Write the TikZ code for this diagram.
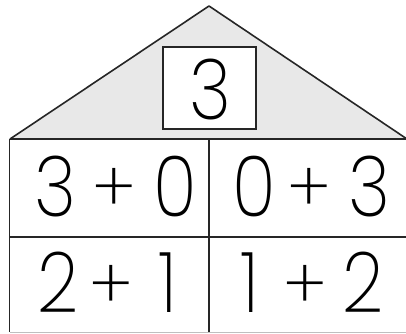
\documentclass[tikz,border=0pt]{standalone}
\usepackage{fontspec}
\setmainfont{Poppins ExtraLight}
\newcommand{\glyphtxt}[1]{\scalebox{0.86}[1]{#1}}
\begin{document}
\begin{tikzpicture}[x=1pt,y=-1pt,
  edge/.style={line width=1.6pt,draw=black!85},
  num/.style={font=\fontsize{84}{84}\selectfont,inner sep=0pt,anchor=center},
  op/.style={font=\fontsize{70}{70}\selectfont,inner sep=0pt,anchor=center}]
\useasboundingbox (0,0) rectangle (406,333);
\coordinate (apex) at (209,6);
\coordinate (rl) at (10,139);
\coordinate (rr) at (407,139);
\fill[black!9] (rl) -- (apex) -- (rr) -- cycle;
\draw[edge,line join=round] (rl) -- (apex) -- (rr);
\node[draw=black!85,line width=1.6pt,fill=white,minimum width=93pt,minimum height=82pt,inner sep=0pt] (box) at (209.5,88) {};
\node[num] (top) at (210,89.5) {\glyphtxt{3}};
% table
\coordinate (tl) at (9.5,139);
\coordinate (tr) at (408,139);
\coordinate (ml) at (9.5,237);
\coordinate (mr) at (408,237);
\coordinate (bl) at (9.5,332);
\coordinate (br) at (408,332);
\coordinate (ct) at (209,139);
\coordinate (cb) at (209,333);
\draw[edge] (tl) -- (tr);
\draw[edge] (ml) -- (mr);
\draw[edge] (tl) -- (bl);
\draw[edge] (ct) -- (cb);
\draw[line width=1pt,black!25] (bl) -- (br);
% row 1
\node[num] (a1) at (55,186.5) {\glyphtxt{3}};
\node[op]  (a2) at (114,190) {+};
\node[num] (a3) at (175,187) {\glyphtxt{0}};
\node[num] (b1) at (254,187) {\glyphtxt{0}};
\node[op]  (b2) at (309,190) {+};
\node[num] (b3) at (369,186.5) {\glyphtxt{3}};
% row 2
\node[num] (c1) at (58.5,282) {\glyphtxt{2}};
\node[op]  (c2) at (111,287) {+};
\node[num] (c3) at (168,282.5) {\glyphtxt{1}};
\node[num] (d1) at (250,282.5) {\glyphtxt{1}};
\node[op]  (d2) at (305,287) {+};
\node[num] (d3) at (363,282) {\glyphtxt{2}};
\end{tikzpicture}
\end{document}
